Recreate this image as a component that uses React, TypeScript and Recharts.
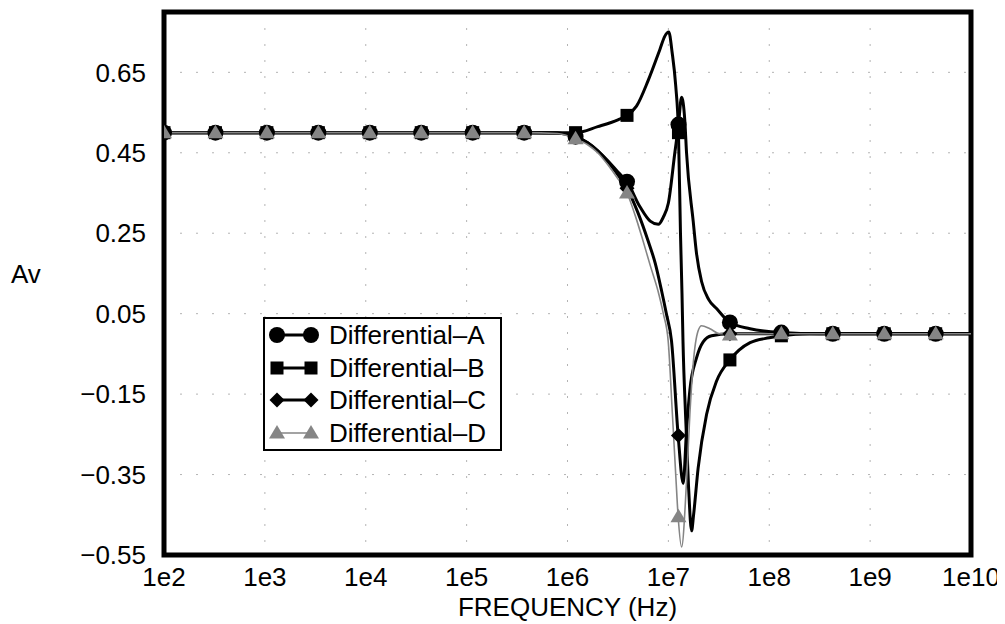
import { ComposedChart, Line, Scatter, XAxis, YAxis, CartesianGrid, ReferenceArea, Legend } from "recharts";

// x values are log10 of the frequency in Hz
const decadeTicks = [2, 3, 4, 5, 6, 7, 8, 9, 10];
const avTicks = [-0.55, -0.35, -0.15, 0.05, 0.25, 0.45, 0.65];

// marker positions (every ~0.51 decade)
const markerF = [2, 2.51, 3.02, 3.53, 4.04, 4.55, 5.06, 5.57, 6.08, 6.59, 7.1, 7.61, 8.12, 8.63, 9.14, 9.65];
const markerA = [0.5, 0.5, 0.5, 0.5, 0.5, 0.5, 0.5, 0.5, 0.49, 0.378, 0.52, 0.028, 0.003, 0, 0, 0];
const markerB = [0.5, 0.5, 0.5, 0.5, 0.5, 0.5, 0.5, 0.5, 0.5, 0.543, 0.5, -0.065, -0.005, 0, 0, 0];
const markerC = [0.5, 0.5, 0.5, 0.5, 0.5, 0.5, 0.5, 0.5, 0.49, 0.362, -0.253, 0, 0, 0, 0, 0];
const markerD = [0.5, 0.5, 0.5, 0.5, 0.5, 0.5, 0.5, 0.5, 0.485, 0.35, -0.455, -0.003, 0, 0, 0, 0];

// [log10 f, Av]
const curveA: [number, number][] = [
	[2, 0.5], [5.57, 0.5], [5.9, 0.499], [6.08, 0.49], [6.2, 0.475], [6.3, 0.455], [6.4, 0.43],
	[6.5, 0.402], [6.59, 0.378], [6.72, 0.315], [6.82, 0.28], [6.9, 0.272], [6.95, 0.29], [7.0, 0.325],
	[7.064, 0.45], [7.1, 0.52], [7.131, 0.588], [7.163, 0.53], [7.18, 0.45], [7.246, 0.28],
	[7.279, 0.2], [7.329, 0.13], [7.4, 0.085], [7.48, 0.062], [7.61, 0.028], [7.81, 0.0125],
	[8.12, 0.003], [8.5, 0], [10, 0],
];
const curveB: [number, number][] = [
	[2, 0.5], [5.57, 0.5], [5.9, 0.5], [6.08, 0.5], [6.3, 0.515], [6.5, 0.532], [6.59, 0.543],
	[6.684, 0.566], [6.8, 0.63], [6.916, 0.707], [6.965, 0.74], [7.004, 0.75], [7.037, 0.7],
	[7.073, 0.616], [7.1, 0.5], [7.12, 0.25], [7.135, 0.1], [7.145, -0.02], [7.17, -0.2],
	[7.2, -0.38], [7.23, -0.49], [7.25, -0.45], [7.295, -0.334], [7.379, -0.2], [7.478, -0.1175],
	[7.61, -0.065], [7.81, -0.022], [8.0, -0.01], [8.12, -0.005], [8.4, 0], [10, 0],
];
const curveC: [number, number][] = [
	[2, 0.5], [5.57, 0.5], [5.9, 0.499], [6.08, 0.49], [6.2, 0.475], [6.3, 0.455], [6.4, 0.428],
	[6.5, 0.395], [6.59, 0.362], [6.7, 0.3], [6.797, 0.2325], [6.87, 0.175], [6.932, 0.1075],
	[6.98, 0.05], [7.031, -0.0175], [7.097, -0.253], [7.147, -0.372], [7.18, -0.24], [7.213, -0.14],
	[7.279, -0.06], [7.345, -0.02], [7.428, -0.005], [7.61, 0], [10, 0],
];
const curveD: [number, number][] = [
	[2, 0.5], [5.57, 0.5], [5.9, 0.498], [6.08, 0.485], [6.2, 0.47], [6.3, 0.45], [6.4, 0.42],
	[6.5, 0.385], [6.59, 0.35], [6.67, 0.295], [6.747, 0.2325], [6.82, 0.17], [6.896, 0.1075],
	[6.95, 0.05], [6.998, -0.0175], [7.04, -0.2], [7.075, -0.36], [7.097, -0.455], [7.131, -0.53],
	[7.18, -0.3675], [7.213, -0.2], [7.246, -0.075], [7.295, 0.0075], [7.329, 0.02], [7.412, 0.0125],
	[7.51, 0], [10, 0],
];

const FONT = "'Liberation Sans', Arial, Helvetica, sans-serif";
const GRAY = "#858585";

const toPoints = (pairs: [number, number][]) => pairs.map(([f, av]) => ({ f, av }));
const toMarkers = (vals: number[]) => vals.map((av, i) => ({ f: markerF[i], av }));

const fmtAv = (v: number) => (v < 0 ? "\u2212" : "") + Math.abs(v).toFixed(2);

const CircleMark = ({ cx, cy }: any) => <circle cx={cx} cy={cy} r={8} fill="#000" />;
const SquareMark = ({ cx, cy }: any) => <rect x={cx - 6.5} y={cy - 6.5} width={13} height={13} fill="#000" />;
const DiamondMark = ({ cx, cy }: any) => (
	<polygon points={`${cx},${cy - 7.5} ${cx + 7.5},${cy} ${cx},${cy + 7.5} ${cx - 7.5},${cy}`} fill="#000" />
);
const TriangleMark = ({ cx, cy }: any) => (
	<polygon points={`${cx},${cy - 8} ${cx + 8},${cy + 5.5} ${cx - 8},${cy + 5.5}`} fill={GRAY} />
);

const legendItems = [
	{ name: "Differential\u2013A", Mark: CircleMark, color: "#000", width: 3 },
	{ name: "Differential\u2013B", Mark: SquareMark, color: "#000", width: 3 },
	{ name: "Differential\u2013C", Mark: DiamondMark, color: "#000", width: 3 },
	{ name: "Differential\u2013D", Mark: TriangleMark, color: GRAY, width: 1.5 },
];

function LegendBox() {
	return (
		<div style={{ border: "2px solid #000", background: "#fff", width: 235, fontFamily: FONT, fontSize: 26, color: "#000" }}>
			{legendItems.map((it) => (
				<div key={it.name} style={{ display: "flex", alignItems: "center", height: 32.5 }}>
					<svg width={64} height={32} style={{ flex: "none" }}>
						<line x1={12} x2={46} y1={16} y2={16} stroke={it.color} strokeWidth={it.width} />
						<it.Mark cx={12} cy={16} />
						<it.Mark cx={46} cy={16} />
					</svg>
					<span style={{ lineHeight: 1 }}>{it.name}</span>
				</div>
			))}
		</div>
	);
}

export default function App() {
	return (
		<ComposedChart
			width={997}
			height={616}
			margin={{ top: 4, right: 34, bottom: 0, left: 0 }}
			style={{ fontFamily: FONT }}
		>
			<CartesianGrid stroke="#b4b4b4" strokeDasharray="2 14" />
			<XAxis
				dataKey="f"
				type="number"
				domain={[2, 10]}
				ticks={decadeTicks}
				allowDataOverflow
				tickFormatter={(v) => `1e${v}`}
				tick={{ fill: "#000", fontSize: 26 }}
				tickLine={false}
				axisLine={false}
				tickSize={0}
				tickMargin={13}
				height={69}
				label={({ viewBox }: any) => (
					<text x={viewBox.x + viewBox.width / 2} y={viewBox.y + 61} textAnchor="middle" fontSize={26} fill="#000">
						FREQUENCY (Hz)
					</text>
				)}
			/>
			<YAxis
				dataKey="av"
				type="number"
				domain={[-0.55, 0.8]}
				ticks={avTicks}
				allowDataOverflow
				tickFormatter={fmtAv}
				tick={{ fill: "#000", fontSize: 26 }}
				tickLine={false}
				axisLine={false}
				tickSize={0}
				tickMargin={18}
				width={156}
				label={({ viewBox }: any) => (
					<text x={viewBox.x + 3} y={viewBox.y + viewBox.height / 2 - 10} dy="0.355em" fontSize={26} fill="#000">
						Av
					</text>
				)}
			/>
			<ReferenceArea x1={2} x2={10} y1={-0.55} y2={0.8} fill="none" stroke="#000" strokeWidth={5} />
			<Line data={toPoints(curveA)} dataKey="av" type="monotone" stroke="#000" strokeWidth={3} dot={false} isAnimationActive={false} />
			<Line data={toPoints(curveB)} dataKey="av" type="monotone" stroke="#000" strokeWidth={3} dot={false} isAnimationActive={false} />
			<Line data={toPoints(curveC)} dataKey="av" type="monotone" stroke="#000" strokeWidth={3} dot={false} isAnimationActive={false} />
			<Line data={toPoints(curveD)} dataKey="av" type="monotone" stroke={GRAY} strokeWidth={1.6} dot={false} isAnimationActive={false} />
			<Scatter data={toMarkers(markerB)} shape={SquareMark} isAnimationActive={false} />
			<Scatter data={toMarkers(markerC)} shape={DiamondMark} isAnimationActive={false} />
			<Scatter data={toMarkers(markerA)} shape={CircleMark} isAnimationActive={false} />
			<Scatter data={toMarkers(markerD)} shape={TriangleMark} isAnimationActive={false} />
			<Legend
				layout="vertical"
				align="center"
				verticalAlign="middle"
				content={() => <LegendBox />}
				wrapperStyle={{ left: 255, top: 309, width: "auto", height: "auto" }}
			/>
		</ComposedChart>
	);
}
